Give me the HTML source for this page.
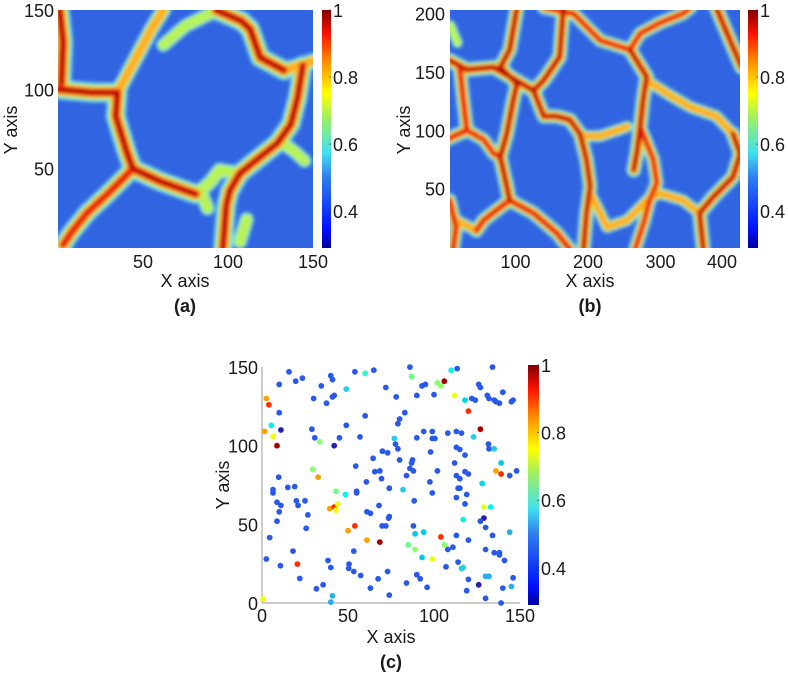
<!DOCTYPE html>
<html><head><meta charset="utf-8"><style>
body{margin:0;background:#fff;}
svg text{font-family:"Liberation Sans",sans-serif;fill:#1a1a1a;}
</style></head><body>
<svg id="fig" width="788" height="676" xmlns="http://www.w3.org/2000/svg">
<defs>
<linearGradient id="jet" x1="0" y1="1" x2="0" y2="0">
<stop offset="0" stop-color="#0000a0"/><stop offset="0.08" stop-color="#0010ff"/>
<stop offset="0.3" stop-color="#3080f0"/><stop offset="0.4" stop-color="#40e0f0"/>
<stop offset="0.55" stop-color="#a0f060"/><stop offset="0.65" stop-color="#ffff00"/>
<stop offset="0.78" stop-color="#ff9000"/><stop offset="0.9" stop-color="#ff1000"/>
<stop offset="1" stop-color="#800000"/></linearGradient>
<filter id="blur" x="-5%" y="-5%" width="110%" height="110%"><feGaussianBlur stdDeviation="1.8"/></filter>
<clipPath id="clipA"><rect x="58" y="10" width="255" height="238"/></clipPath>
<clipPath id="clipB"><rect x="450" y="10" width="290" height="238"/></clipPath>
</defs>
<g id="gA"></g>
<g id="gB"></g>
<g id="gC"></g>
<g id="labels"></g>
</svg>
<script>
// ---- data ----
const ridgesA = [
 [[1,150],[3,130],[2,104]], [[0,100],[20,98],[35,98]], [[35,98],[34,83],[40,62],[44,50]],
 [[44,50],[60,42],[81,34]], [[44,50],[30,35],[17,22],[8,10],[3,2]],
 [[35,98],[42,112],[48,124],[55,138],[62,150]], [[62,128],[75,140],[90,148]],
 [[93,150],[108,143],[113,138],[119,120],[133,112]], [[133,112],[151,118]],
 [[144,115],[141,95],[137,78],[129,66],[115,54],[107,47],[101,36],[99,27],[97,0]],
 [[84,36],[90,42],[95,49],[107,47]], [[111,18],[107,4]], [[82,36],[85,33],[88,25]],
 [[130,68],[140,60],[145,55]]
];
const strengthA = [1,1,1,1,0.85,0.5,0.35,1,0.55,0.95,0.45,0.4,0.4,0.35];
const ridgesB = [
 [[102,205],[92,169],[79,154],[102,140],[97,126],[88,97],[79,77],[88,52],[92,40]],
 [[92,40],[79,34],[56,23],[46,14]], [[92,40],[125,29],[157,12],[175,-2]],
 [[9,160],[33,152],[70,154],[92,146],[125,134],[139,143],[161,163],[166,205]],
 [[125,134],[139,112],[157,112],[175,109],[189,97],[198,75],[203,52],[198,29],[194,-2]],
 [[189,95],[217,95],[254,103]],
 [[139,205],[180,200],[217,177],[258,169],[272,183],[299,192],[331,200],[341,205]],
 [[258,169],[281,146],[276,126],[272,103],[268,83],[263,66]],
 [[272,103],[290,75],[295,55],[285,40],[278,23],[265,-2]],
 [[377,205],[396,177],[412,154]],
 [[281,143],[308,132],[341,120],[377,112],[400,97]],
 [[400,97],[410,80],[400,60],[373,43],[354,29],[359,-2]],
 [[203,46],[217,29],[226,17],[254,23],[281,40],[299,46],[331,40],[354,29]],
 [[23,154],[28,126],[33,100],[15,95],[5,92]], [[33,100],[56,92],[70,80],[79,77]],
 [[9,40],[18,17],[14,-2]], [[18,23],[46,14]], [[10,190],[20,175]]
];
const strengthB = [1,0.9,0.9,1,0.95,0.55,0.8,1,0.8,1,0.6,1,0.55,0.9,0.8,0.9,0.6,0.35];
const scX = [15.7,23.5,19.6,40,41,34.5,54,65,60,86,87,72,93,95,102,104,106,110,113.5,134,126,127,10,2.5,4,30,41,42,37.5,49,78,90,100,112,118,122,124,131,132,135,136,138,140,145,146,10,120,83,60,80,79,5.4,1.5,11,29,49,6.4,8.7,30.7,33.6,42,45,57,77,77.6,79,90,94,99,99,100.5,108,113,116,123,127,131.6,132,135,113,115,118,98,70,73,64.6,80,87.5,87,86,88,102,112,139,148,136,139,144,113,115,118,120,9.7,29.6,32.6,54.5,68.5,65.6,69.5,84,60.7,97.6,6.4,6.4,15,19,43,48.5,55,55,74,82,114,115,119,99,113,128,8.7,11,20,21,25,39.4,42,44,43,68,10,26.7,61,63,74,73.6,88.5,118,129,133,8.7,25.7,69.8,72,54,50,88,117,129,127,130,89,94,113,134,144,4.5,61,68.5,104,85,89,106,108,111,120,135,138,138,141,130,18,2.5,10.7,20.6,38.4,40,50.6,50.4,53.4,53.4,57.4,93,99,107,114,116,117,120,132,130,146,73,74,67.5,90,92,96,84,22,31.6,35.5,0.6,41,40,63,119,126,130,140,139,145];
const scY = [147,143,141,144.5,142,138,147,148,146,150,144,137,138,139,140,138,141,148,149,150,139,137,139,130,126,130,131,132,127,136,131,132,132.5,132,129,130,129,132,130,129,128,127,134,128,129,121,122,121,119,117,114,113,109,110,110.5,113,106,100,105,102.5,100,105,105.6,104.6,101,98,105,109,109,104.6,104.6,108,109,108,105.6,110.5,101,98,98,99,97.6,94,96,96.5,95.5,92,91,91,89,85.6,84,84,89,89,84,84,82,81,81,79,83.5,82,80,85,80,87,84,83.5,79,81,77,77,72,70,73.5,74,71,69,71,70,73,72,73,73,69,70,67,76,64,62,65,62,65,60,61,63,59,62,58,56,58,57,55,54,65,63,61,61,52,47.5,49,49,49,46,49,53,54,52,48,44,45,43,43,45,41.6,40,38.7,42,37,34,37,34,35.5,40,32,32,30.6,27,34,33,28,23.7,24.7,27,22.6,24.7,22,33,20,17.5,29,28,23,26,22,22.6,15,17,17,16,20,5,15.4,18,15.4,10,12.7,15.6,9,11.6,2.7,4.6,0.6,9.5,7.8,11.6,3,9.5,0,10.5];
const scV = [0.42,0.42,0.42,0.42,0.42,0.42,0.42,0.42,0.58,0.42,0.63,0.42,0.42,0.42,0.65,0.65,0.97,0.55,0.42,0.42,0.42,0.42,0.42,0.8,0.88,0.42,0.42,0.42,0.42,0.5,0.42,0.42,0.42,0.72,0.53,0.42,0.42,0.42,0.42,0.42,0.42,0.42,0.42,0.42,0.42,0.42,0.88,0.42,0.42,0.42,0.42,0.55,0.8,0.33,0.42,0.42,0.72,0.97,0.42,0.65,0.34,0.42,0.42,0.5,0.42,0.42,0.42,0.42,0.42,0.42,0.42,0.42,0.42,0.42,0.5,0.97,0.42,0.42,0.5,0.42,0.42,0.42,0.42,0.42,0.42,0.42,0.42,0.42,0.42,0.42,0.42,0.42,0.42,0.52,0.42,0.8,0.88,0.42,0.42,0.42,0.42,0.42,0.42,0.65,0.8,0.42,0.42,0.42,0.42,0.42,0.42,0.42,0.42,0.42,0.42,0.42,0.63,0.55,0.42,0.42,0.42,0.5,0.42,0.42,0.42,0.42,0.42,0.53,0.42,0.42,0.42,0.42,0.42,0.8,0.88,0.72,0.72,0.42,0.42,0.42,0.42,0.42,0.42,0.42,0.42,0.42,0.72,0.55,0.42,0.42,0.42,0.42,0.88,0.8,0.42,0.55,0.33,0.42,0.42,0.52,0.52,0.42,0.42,0.48,0.42,0.8,0.97,0.88,0.63,0.65,0.65,0.42,0.42,0.42,0.42,0.42,0.42,0.42,0.42,0.42,0.42,0.42,0.88,0.42,0.42,0.42,0.42,0.42,0.42,0.42,0.52,0.72,0.42,0.42,0.5,0.5,0.42,0.48,0.48,0.42,0.42,0.42,0.42,0.42,0.42,0.42,0.42,0.42,0.42,0.42,0.72,0.48,0.48,0.42,0.42,0.33,0.42,0.42,0.42,0.48];
const cbTicks = [1,0.8,0.6,0.4];
const ticksA = [50,100,150], ticksBx=[100,200,300,400], ticksBy=[50,100,150,200], ticksC=[0,50,100,150];
// ---- helpers ----
const NS="http://www.w3.org/2000/svg";
function mk(tag,attrs,parent){const e=document.createElementNS(NS,tag);for(const k in attrs)e.setAttribute(k,attrs[k]);parent.appendChild(e);return e;}
function jet(v){const t=Math.max(0,Math.min(1,(v-0.29)/0.71));
 const r=Math.max(0,Math.min(1,1.5-Math.abs(4*t-3))),g=Math.max(0,Math.min(1,1.5-Math.abs(4*t-2))),b=Math.max(0,Math.min(1,1.5-Math.abs(4*t-1)));
 const rr=Math.min(255,r*255+ (t<0.3?40:0));
 return `rgb(${Math.round(rr)},${Math.round(Math.min(255,g*255+(t<0.3?30:0)))},${Math.round(b*235)})`;}
const xA=x=>58+x*1.7, yA=y=>248-y*1.587;
const xB=x=>443+x*0.725, yB=y=>247-y*1.167;
const xC=x=>262+x*1.72, yC=y=>603-y*1.573;
function txt(s,x,y,anchor,parent,name,extra){const t=mk('text',Object.assign({x:x,y:y,'text-anchor':anchor,'font-size':18},extra||{}),parent);t.textContent=s;
 
 
 return t;}
function heat(g,ridges,strength,fx,fy,clip,rx,ry,rw,rh,k){
 const bg=mk('rect',{x:rx,y:ry,width:rw,height:rh,fill:'#3164e0'},g);
 
 
 const cg=mk('g',{'clip-path':'url(#'+clip+')'},g);
 const fg=mk('g',{filter:'url(#blur)'},cg);
 const layers=[[20,'#70d8f0',0],[15,'#b8f35a',0.35],[11,'#ffb020',0.5],[7.5,'#ec1a0c',0.7],[3,'#a00000',0.95]];
 layers.forEach(([w,c,th])=>{
  ridges.forEach((r,i)=>{const s=strength[i]; if(s<th)return;
   const d=r.map((p,j)=>(j?'L':'M')+fx(p[0]).toFixed(1)+' '+fy(p[1]).toFixed(1)).join(' ');
   const p=mk('path',{d:d,fill:'none',stroke:c,'stroke-width':(k*w*(0.55+0.45*s)).toFixed(1),'stroke-linecap':'round','stroke-linejoin':'round'},fg);
   
   
  });
 });
}
function cbar(x,y0,y1,w,parent,name){
 const r=mk('rect',{x:x,y:y0,width:w,height:y1-y0,fill:'url(#jet)'},parent);
 
 
 cbTicks.forEach(v=>{const y=y1-(v-0.29)/0.71*(y1-y0);
  mk('line',{x1:x+w-2,x2:x+w,y1:y,y2:y,stroke:'#333','stroke-width':0.6},parent);
  txt(String(v),x+w+2,y+7,'start',parent,'colorbar-tick-label');});
}
// ---- panel a ----
const gA=document.getElementById('gA');
heat(gA,ridgesA,strengthA,xA,yA,'clipA',58,10,255,238,1);
cbar(322,10,248,9,gA,'colorbar-a');
ticksA.forEach(v=>{txt(String(v),54,yA(v)+7,'end',gA,'y-tick-label');txt(String(v),xA(v),268,'middle',gA,'x-tick-label');});
txt('X axis',185,287,'middle',gA,'x-axis-title');
txt('Y axis',0,0,'middle',gA,'y-axis-title',{transform:'translate(17,130) rotate(-90)'});
txt('(a)',185,312,'middle',gA,'panel-label-a',{'font-weight':'bold'});
// ---- panel b ----
const gB=document.getElementById('gB');
heat(gB,ridgesB,strengthB,xB,yB,'clipB',450,10,290,238,0.75);
cbar(748,10,248,10,gB,'colorbar-b');
ticksBy.forEach(v=>txt(String(v),445,yB(v)+7,'end',gB,'y-tick-label'));
ticksBx.forEach(v=>txt(String(v),Math.min(xB(v),722),268,'middle',gB,'x-tick-label'));
txt('X axis',590,287,'middle',gB,'x-axis-title');
txt('Y axis',0,0,'middle',gB,'y-axis-title',{transform:'translate(410,130) rotate(-90)'});
txt('(b)',590,312,'middle',gB,'panel-label-b',{'font-weight':'bold'});
// ---- panel c ----
const gC=document.getElementById('gC');
mk('line',{x1:262,y1:367,x2:262,y2:603,stroke:'#999','stroke-width':1},gC);
mk('line',{x1:262,y1:603,x2:520,y2:603,stroke:'#999','stroke-width':1},gC);
scX.forEach((x,i)=>{const c=mk('circle',{cx:xC(x).toFixed(1),cy:yC(scY[i]).toFixed(1),r:2.9,fill:jet(scV[i])},gC);
 
 });
cbar(528,365,605,11,gC,'colorbar-c');
ticksC.forEach(v=>{txt(String(v),258,yC(v)+7,'end',gC,'y-tick-label');txt(String(v),xC(v),622,'middle',gC,'x-tick-label');});
txt('X axis',391,643,'middle',gC,'x-axis-title');
txt('Y axis',0,0,'middle',gC,'y-axis-title',{transform:'translate(229,485) rotate(-90)'});
txt('(c)',391,668,'middle',gC,'panel-label-c',{'font-weight':'bold'});
</script>
</body></html>
